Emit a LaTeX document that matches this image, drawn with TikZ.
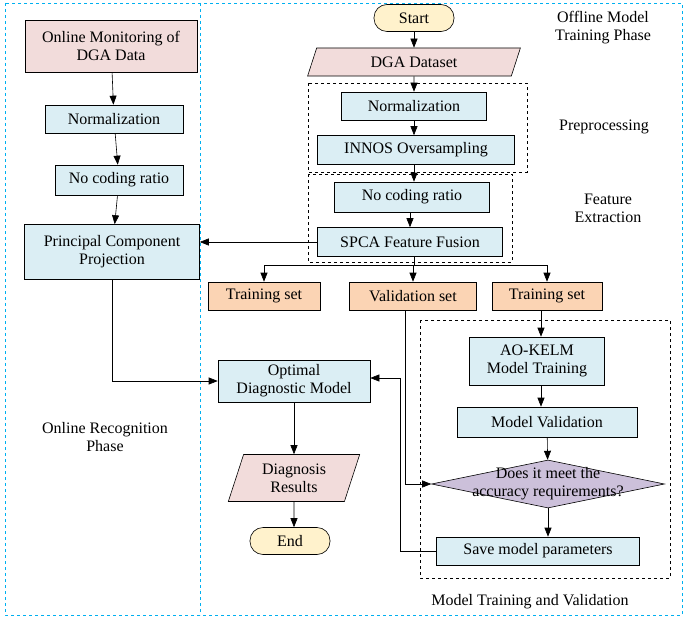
\documentclass[tikz,border=0pt]{standalone}
\usepackage{fontspec}
\setmainfont{Liberation Serif}
\usetikzlibrary{shapes.geometric,arrows.meta}
\definecolor{boxblue}{RGB}{219,238,244}
\definecolor{boxpink}{RGB}{242,220,219}
\definecolor{boxorange}{RGB}{251,212,180}
\definecolor{boxyellow}{RGB}{255,242,204}
\definecolor{boxpurple}{RGB}{204,192,218}
\definecolor{phasecyan}{RGB}{0,176,240}
\tikzset{
  procbox/.style={draw,fill=boxblue,align=center,inner sep=1pt,minimum height=28pt},
  data/.style={draw,fill=boxpink,trapezium,trapezium left angle=72,trapezium right angle=108,align=center,inner sep=1pt,minimum height=28pt},
  term/.style={draw,fill=boxyellow,rounded corners=13pt,minimum width=80pt,minimum height=27pt},
  subset/.style={draw,fill=boxorange,minimum height=28pt},
  group/.style={draw,dashed,thick},
  phase/.style={draw=phasecyan,dashed,thick},
  arr/.style={-{Triangle[length=9pt,width=7pt]}}
}
\begin{document}
\begin{tikzpicture}[x=1pt,y=-1pt,semithick,every node/.style={font=\fontsize{16}{18}\selectfont}]
\useasboundingbox (0,0) rectangle (685,618);
% phases
\draw[phase] (5,3) rectangle (682,615);
\draw[phase] (200,3) -- (200,615);
\draw[group] (308,83) rectangle (527,172);
\draw[group] (308,174) rectangle (512,262);
\draw[group] (420,320) rectangle (670,578);
% labels
\node (offl) at (603,28) [align=center] {Offline Model\\Training Phase};
\node (prel) at (604,127) {Preprocessing};
\node (feal) at (608,208) [align=center] {Feature\\Extraction};
\node (onl) at (105,437) [align=center] {Online Recognition\\Phase};
\node (mtvl) at (530,602) {Model Training and Validation};
% online side
\node (mon) at (111,46) [procbox,fill=boxpink,minimum width=172pt,minimum height=52pt] {Online Monitoring of\\DGA Data};
\node (norm1) at (114,119) [procbox,minimum width=138pt] {Normalization};
\node (ncr1) at (119,180) [procbox,minimum width=128pt,minimum height=30pt] {No coding ratio};
\node (pcp) at (112,252) [procbox,minimum width=175pt,minimum height=55pt] {Principal Component\\Projection};
% offline side
\node (start) at (414,18) [term] {Start};
\node (dga) at (414,62) [data,minimum width=150pt] {DGA Dataset};
\node (norm2) at (414,106) [procbox,minimum width=145pt] {Normalization};
\node (innos) at (416,150) [procbox,minimum width=197pt,minimum height=29pt] {INNOS Oversampling};
\node (ncr2) at (412,197) [procbox,minimum width=155pt,minimum height=30pt] {No coding ratio};
\node (spca) at (410,242) [procbox,minimum width=185pt,minimum height=29pt] {SPCA Feature Fusion};
\node (train1) at (264,296) [subset,minimum width=112pt] {Training set};
\node (valid) at (413,296) [subset,minimum width=127pt] {Validation set};
\node (train2) at (547,296) [subset,minimum width=110pt] {Training set};
\node (kelm) at (537,361) [procbox,minimum width=135pt,minimum height=48pt] {AO-KELM\\Model Training};
\node (mval) at (547,422) [procbox,minimum width=180pt,minimum height=30pt] {Model Validation};
\node (acc) at (548,484) [draw,fill=boxpurple,diamond,inner sep=0pt,minimum width=233pt,minimum height=48pt,aspect=4.85,
  label={[align=center,font=\fontsize{16}{18}\selectfont]center:Does it meet the\\accuracy requirements?}] {};
\node (save) at (538,551) [procbox,minimum width=203pt] {Save model parameters};
\node (opt) at (294,381) [procbox,minimum width=152pt,minimum height=42pt] {Optimal\\Diagnostic Model};
\node (res) at (294,478) [data,minimum width=120pt,minimum height=47pt] {Diagnosis\\Results};
\node (end) at (290,541) [term] {End};
\coordinate (split) at (414,265);
% connectors
\draw[arr] (mon) -- (norm1);
\draw[arr] (norm1) -- (ncr1);
\draw[arr] (ncr1) -- (pcp);
\draw[arr] (pcp.south) |- (opt.west);
\draw[arr] (start) -- (dga);
\draw[arr] (dga) -- (norm2);
\draw[arr] (norm2) -- (norm2|-innos.north);
\draw[arr] (innos.south-|414,0) -- (ncr2.north-|414,0);
\draw[arr] (ncr2.south-|410,0) -- (spca);
\draw[arr] (spca.west) -- (pcp.east|-spca.west);
\draw (spca.south-|split) -- (split);
\draw (train1.north|-split) -- (train2.north|-split);
\draw[arr] (train1.north|-split) -- (train1);
\draw[arr] (valid.north|-split) -- (valid);
\draw[arr] (train2.north|-split) -- (train2);
\draw[arr] (train2.south-|541,0) -- (kelm.north-|541,0);
\draw[arr] (kelm.south-|541,0) -- (mval.north-|541,0);
\draw[arr] (mval) -- (acc);
\draw[arr] (acc) -- (save.north-|acc);
\draw[arr] (valid.south-|405,0) |- (acc.west);
\draw[arr] (save.west) -| (400,378) -- (opt.east|-0,378);
\draw[arr] (opt) -- (res);
\draw[arr] (res) -- (res|-end.north);
\end{tikzpicture}
\end{document}
